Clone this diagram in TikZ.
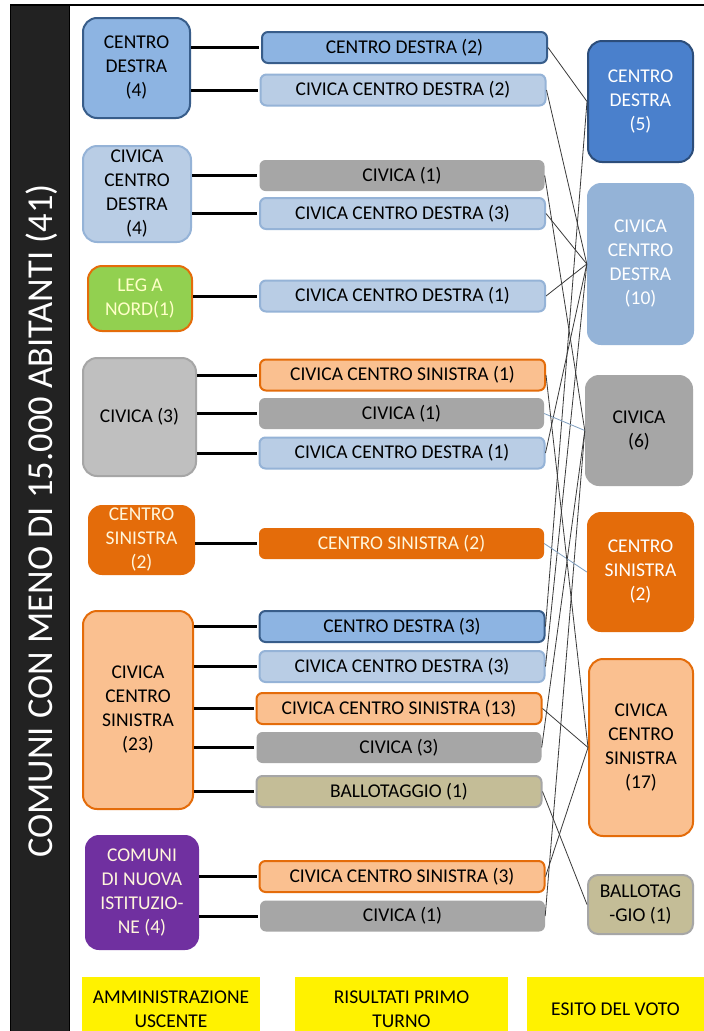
\documentclass[tikz,border=0pt]{standalone}
\usepackage{fontspec}
\setmainfont{Carlito}
\definecolor{cdfill}{HTML}{8DB4E2}
\definecolor{cdline}{HTML}{385D8A}
\definecolor{ccdfill}{HTML}{B9CDE5}
\definecolor{ccdline}{HTML}{95B3D7}
\definecolor{civfill}{HTML}{A6A6A6}
\definecolor{civlight}{HTML}{BFBFBF}
\definecolor{orng}{HTML}{E46C0A}
\definecolor{ccsfill}{HTML}{FAC090}
\definecolor{balfill}{HTML}{C4BD97}
\definecolor{balline}{HTML}{A6A6A6}
\definecolor{grn}{HTML}{92D050}
\definecolor{purp}{HTML}{7030A0}
\definecolor{rcdfill}{HTML}{4A80CC}
\definecolor{rcdline}{HTML}{2C4D7A}
\definecolor{rccdfill}{HTML}{94B3D7}
\definecolor{cream}{HTML}{FFF6DC}
\definecolor{paleyel}{HTML}{FFFFC8}
\definecolor{band}{HTML}{222222}
\definecolor{connc}{HTML}{3A3A3A}
\definecolor{connb}{HTML}{7F9FC0}
\newcommand{\bodyfont}{\fontsize{19.5}{24}\selectfont}
\begin{document}
\begin{tikzpicture}[x=1pt,y=-1pt,
  basebox/.style={rectangle, align=center, inner sep=0pt, font=\bodyfont, text=black},
  sidebox/.style={basebox, rounded corners=14pt},
  midbox/.style={basebox, rounded corners=6pt, minimum width=285pt, minimum height=31pt},
  ybox/.style={basebox, fill=yellow, minimum height=64pt},
  sCD/.style={fill=cdfill, draw=cdline, line width=2pt},
  sCCD/.style={fill=ccdfill, draw=ccdline, line width=2pt},
  sCIV/.style={fill=civfill},
  sCS/.style={fill=orng, text=cream},
  sCCS/.style={fill=ccsfill, draw=orng, line width=2pt},
  sBAL/.style={fill=balfill, draw=balline, line width=2pt},
  feed/.style={line width=3pt, black, shorten >=2pt},
  conn/.style={line width=0.8pt, connc},
  connblue/.style={line width=0.8pt, connb}]
\useasboundingbox (0,0) rectangle (704,1031);
\clip (0,0) rectangle (704,1031);
\fill[white] (0,0) rectangle (704,1031);
% left band and top rule
\fill[band] (10,4) rectangle (70,1035);
\draw[black, line width=1pt] (10.5,4) -- (10.5,1035) (69.5,4) -- (69.5,1035);
\draw[black, line width=2.5pt] (10,5) -- (704,5);
\node[rotate=90, text=white, font=\fontsize{36.5}{40}\selectfont] (title) at (42,521) {COMUNI CON MENO DI 15.000 ABITANTI (41)};
% left column
\node[sidebox, sCD, minimum width=107pt, minimum height=100pt] (l1) at (136.5,68) {CENTRO\\DESTRA\\(4)};
\node[sidebox, sCCD, minimum width=108pt, minimum height=96pt] (l2) at (137,194) {CIVICA\\CENTRO\\DESTRA\\(4)};
\node[sidebox, fill=grn, draw=orng, line width=2pt, text=paleyel, minimum width=104pt, minimum height=65pt] (l3) at (140,298.5) {LEG A\\NORD(1)};
\node[sidebox, fill=civlight, draw=civfill, line width=2pt, minimum width=113pt, minimum height=118pt] (l4) at (139.5,417) {CIVICA (3)};
\node[sidebox, sCS, minimum width=107pt, minimum height=70pt] (l5) at (141.5,540) {CENTRO\\SINISTRA\\(2)};
\node[sidebox, sCCS, minimum width=110pt, minimum height=198pt] (l6) at (138,710) {CIVICA\\CENTRO\\SINISTRA\\(23)};
\node[sidebox, fill=purp, text=cream, minimum width=114pt, minimum height=115pt] (l7) at (142,892.5) {COMUNI\\DI NUOVA\\ISTITUZIO-\\NE (4)};
% middle column
\node[midbox, sCD] (m1) at (404.5,47.5) {CENTRO DESTRA (2)};
\node[midbox, sCCD] (m2) at (403,90) {CIVICA CENTRO DESTRA (2)};
\node[midbox, sCIV] (m3) at (402,175.5) {CIVICA (1)};
\node[midbox, sCCD] (m4) at (402.5,213.5) {CIVICA CENTRO DESTRA (3)};
\node[midbox, sCCD] (m5) at (402.5,296) {CIVICA CENTRO DESTRA (1)};
\node[midbox, sCCS] (m6) at (402.5,375) {CIVICA CENTRO SINISTRA (1)};
\node[midbox, sCIV] (m7) at (401.5,413.5) {CIVICA (1)};
\node[midbox, sCCD] (m8) at (402,453) {CIVICA CENTRO DESTRA (1)};
\node[midbox, sCS] (m9) at (401.5,543.5) {CENTRO SINISTRA (2)};
\node[midbox, sCD] (m10) at (402,626.5) {CENTRO DESTRA (3)};
\node[midbox, sCCD] (m11) at (402,666.5) {CIVICA CENTRO DESTRA (3)};
\node[midbox, sCCS] (m12) at (399,708.5) {CIVICA CENTRO SINISTRA (13)};
\node[midbox, sCIV] (m13) at (399,747.5) {CIVICA (3)};
\node[midbox, sBAL] (m14) at (399,791.5) {BALLOTAGGIO (1)};
\node[midbox, sCCS] (m15) at (402,876.5) {CIVICA CENTRO SINISTRA (3)};
\node[midbox, sCIV] (m16) at (402.5,916) {CIVICA (1)};
% right column
\node[sidebox, fill=rcdfill, draw=rcdline, line width=2pt, text=white, minimum width=105pt, minimum height=121pt] (r1) at (640.5,101.5) {CENTRO\\DESTRA\\(5)};
\node[sidebox, fill=rccdfill, text=white, minimum width=107pt, minimum height=162pt] (r2) at (640.5,264) {CIVICA\\CENTRO\\DESTRA\\(10)};
\node[sidebox, sCIV, minimum width=108pt, minimum height=111pt] (r3) at (639,430.5) {CIVICA\\(6)};
\node[sidebox, sCS, text=white, minimum width=107pt, minimum height=120pt] (r4) at (640.5,572) {CENTRO\\SINISTRA\\(2)};
\node[sidebox, sCCS, minimum width=104pt, minimum height=177pt] (r5) at (641,747.5) {CIVICA\\CENTRO\\SINISTRA\\(17)};
\node[sidebox, sBAL, rounded corners=10pt, minimum width=105pt, minimum height=59pt] (r6) at (640.5,904.5) {BALLOTAG\\-GIO (1)};
% footer labels
\node[ybox, minimum width=178pt] (y1) at (171,1009) {AMMINISTRAZIONE\\USCENTE};
\node[ybox, minimum width=213pt] (y2) at (401.5,1009) {RISULTATI PRIMO\\TURNO};
\node[ybox, minimum width=177pt] (y3) at (615.5,1009) {ESITO DEL VOTO};
% feeds from outgoing administration to first round
\foreach \l/\m in {l1/m1,l1/m2,l2/m3,l2/m4,l3/m5,l4/m6,l4/m7,l4/m8,l5/m9,l6/m10,l6/m11,l6/m12,l6/m13,l6/m14,l7/m15,l7/m16}
  \draw[feed] (\m.west -| \l.east) -- (\m.west);
% links from first round to outcome
\draw[conn] (m1.east) -- (r1.west);
\draw[conn] (m10.east) -- (r1.west);
\draw[conn] (m2.east) -- (r2.west);
\draw[conn] (m4.east) -- (r2.west);
\draw[conn] (m5.east) -- (r2.west);
\draw[conn] (m8.east) -- (r2.west);
\draw[conn] (m11.east) -- (r2.west);
\draw[conn] (m3.east) -- (r3.west);
\draw[connblue] (m7.east) -- (r3.west);
\draw[conn] (m13.east) -- (r3.west);
\draw[conn] (m16.east) -- (r3.west);
\draw[connblue] (m9.east) -- (r4.west);
\draw[conn] (m6.east) -- (r5.west);
\draw[conn] (m12.east) -- (r5.west);
\draw[conn] (m15.east) -- (r5.west);
\draw[conn] (m14.east) -- (r6.west);
\end{tikzpicture}
\end{document}
